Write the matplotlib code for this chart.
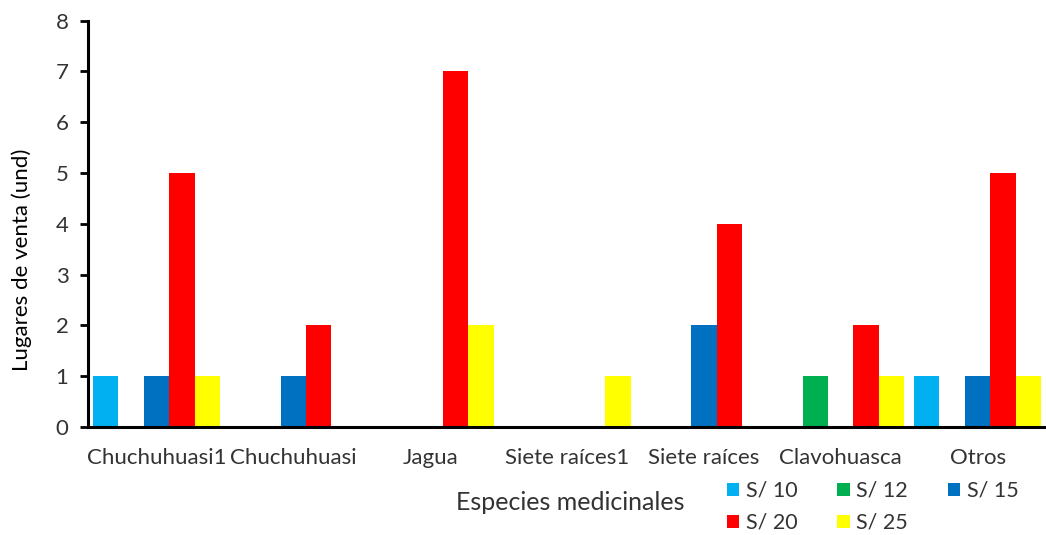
import numpy as np
import matplotlib
matplotlib.use("Agg")
from matplotlib import pyplot as plt

plt.rcParams['font.family'] = ['Lato', 'DejaVu Sans']

especies = ['Chuchuhuasi1', 'Chuchuhuasi', 'Jagua', 'Siete raíces1',
            'Siete raíces', 'Clavohuasca', 'Otros']
precios = ['S/ 10', 'S/ 12', 'S/ 15', 'S/ 20', 'S/ 25']
s10 = [1, 0, 0, 0, 0, 0, 1]
s12 = [0, 0, 0, 0, 0, 1, 0]
s15 = [1, 1, 0, 0, 2, 0, 1]
s20 = [5, 2, 7, 0, 4, 2, 5]
s25 = [1, 0, 2, 1, 0, 1, 1]
colores = ['#00B0F0', '#00B050', '#0070C0', '#FF0000', '#FFFF00']

texto = '#333333'
fig = plt.figure(figsize=(10.46, 5.35), dpi=100)
ax = fig.add_axes([0.0841, 0.2019, 0.9159, 0.7594])

x = np.arange(len(especies))
w = 0.186
barras = []
for i, (serie, c) in enumerate(zip([s10, s12, s15, s20, s25], colores)):
    b = ax.bar(x + (i - 2) * w, serie, width=w, color=c, linewidth=0, label=precios[i])
    barras.append(b)

ax.set_xlim(-0.5, 6.5)
ax.set_ylim(0, 8)
ax.set_yticks(range(0, 9))
ax.set_xticks(x)
ax.set_xticklabels(especies)
ax.tick_params(axis='y', length=6, width=2, direction='out', pad=8,
               labelsize=16, colors='black', labelcolor=texto)
ax.tick_params(axis='x', length=0, pad=15, labelsize=16, labelcolor=texto)
for lado in ['top', 'right']:
    ax.spines[lado].set_visible(False)
for lado in ['left', 'bottom']:
    ax.spines[lado].set_linewidth(2.2)

fig.text(0.021, 0.514, 'Lugares de venta (und)', rotation=90, ha='center', va='center',
         fontsize=16, color='black')
fig.text(0.545, 0.06, 'Especies medicinales', ha='center', va='center',
         fontsize=18, color=texto)

# orden por filas: 10, 12, 15 arriba; 20, 25 abajo
orden = [0, 3, 1, 4, 2]
fig.legend([barras[i] for i in orden], [precios[i] for i in orden],
           ncol=3, loc='upper left', bbox_to_anchor=(0.695, 0.101),
           frameon=False, fontsize=15.5, labelcolor=texto,
           handlelength=0.58, handleheight=0.58, handletextpad=0.3,
           columnspacing=1.85, labelspacing=0.55, borderpad=0, borderaxespad=0)

fig.savefig('out.png', dpi=100)
